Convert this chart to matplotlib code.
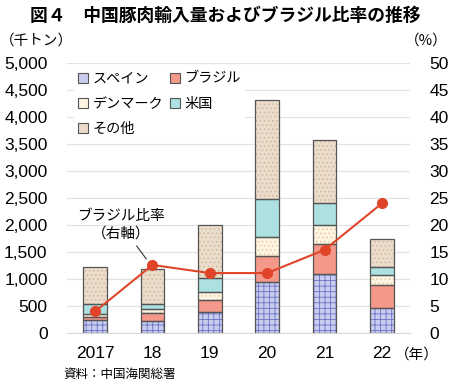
import matplotlib
matplotlib.use("Agg")
import matplotlib.pyplot as plt
from matplotlib.patches import Patch
import numpy as np

plt.rcParams['font.family'] = ['Liberation Sans', 'Noto Sans CJK JP', 'DejaVu Sans']
plt.rcParams['hatch.linewidth'] = 0.6

years = ['2017', '18', '19', '20', '21', '22']
spain = [235, 216, 383, 944, 1099, 463]
brazil = [56, 154, 222, 475, 549, 432]
denmark = [68, 74, 148, 358, 358, 185]
usa = [185, 93, 265, 704, 401, 142]
other = [679, 654, 988, 1834, 1167, 525]
brazil_share = [4.0, 12.6, 11.1, 11.1, 15.4, 24.0]

series = [
    ('スペイン', spain, '#c9ccef', '#6a74c4', '+++'),
    ('ブラジル', brazil, '#f4998a', None, None),
    ('デンマーク', denmark, '#fdf4e2', '#e6c9a2', '....'),
    ('米国', usa, '#ade0e0', '#8cc8c8', None),
    ('その他', other, '#ebdccb', '#cdb79e', '....'),
]

fig = plt.figure(figsize=(4.5, 3.83), dpi=100)
ax = fig.add_axes([0.149, 0.1305, 0.762, 0.705])
x = np.arange(len(years))
w = 0.41
bottom = np.zeros(len(years))
handles = {}
for name, vals, fc, hc, hatch in series:
    vals = np.array(vals, dtype=float)
    if hatch:
        ax.bar(x, vals, w, bottom=bottom, color=fc, edgecolor=hc, hatch=hatch, linewidth=0, zorder=2)
    else:
        ax.bar(x, vals, w, bottom=bottom, color=fc, linewidth=0, zorder=2)
    ax.bar(x, vals, w, bottom=bottom, facecolor='none', edgecolor='#555555', linewidth=0.9, zorder=3)
    handles[name] = Patch(facecolor=fc, edgecolor='#555555', linewidth=0.8)
    bottom += vals

ax.set_xlim(-0.49, 5.49)
ax.set_ylim(0, 5000)
ax.set_yticks(np.arange(0, 5001, 500))
ax.set_yticklabels([f'{v:,}' for v in range(0, 5001, 500)])
ax.grid(axis='y', color='#e2e2e2', linewidth=0.9, zorder=0)
ax.set_axisbelow(True)
for s in ['top', 'right', 'left']:
    ax.spines[s].set_visible(False)
ax.spines['bottom'].set_color('#d8d8d8')
ax.tick_params(axis='both', length=0, labelsize=12.5)
ax.tick_params(axis='y', pad=14)
ax.tick_params(axis='x', pad=9)
ax.set_xticks(x)
ax.set_xticklabels(years)

ax2 = ax.twinx()
ax2.set_ylim(0, 50)
ax2.set_yticks(np.arange(0, 51, 5))
for s in ax2.spines.values():
    s.set_visible(False)
ax2.tick_params(axis='y', length=0, labelsize=12.5, pad=14)
ax2.plot(x, brazil_share, color='#e0452a', linewidth=1.5, marker='o', markersize=7, zorder=5)

ax2.annotate('ブラジル比率\n（右軸）', xy=(x[1] - 0.05, brazil_share[1] + 0.3), xytext=(0.45, 20.0),
             ha='center', va='center', fontsize=10.5, linespacing=1.35,
             arrowprops=dict(arrowstyle='-', color='#333333', lw=0.8, shrinkA=2, shrinkB=4))

order = ['スペイン', 'デンマーク', 'その他', 'ブラジル', '米国']
leg = ax2.legend([handles[n] for n in order], order, ncol=2, loc='upper left',
                 bbox_to_anchor=(0.0, 1.01), frameon=True, framealpha=1, edgecolor='white',
                 fontsize=10.2, handlelength=0.7, handleheight=0.7, handletextpad=0.3,
                 columnspacing=0.5, labelspacing=0.8, borderpad=0.3)
leg.get_frame().set_linewidth(0)

fig.text(0.5, 0.958, '図４　中国豚肉輸入量およびブラジル比率の推移', ha='center', va='center',
         fontsize=12.8, fontweight='bold', family=['Noto Sans CJK JP'])
fig.text(0.0, 0.893, '（千トン）', ha='left', va='center', fontsize=10.5, family=['Noto Sans CJK JP'])
fig.text(0.995, 0.893, '（%）', ha='right', va='center', fontsize=10.5, family=['Noto Sans CJK JP'])
fig.text(0.927, 0.073, '（年）', ha='center', va='center', fontsize=10.5, family=['Noto Sans CJK JP'])
fig.text(0.14, 0.022, '資料：中国海関総署', ha='left', va='center', fontsize=9, family=['Noto Sans CJK JP'])

fig.savefig('out.png', dpi=100)
